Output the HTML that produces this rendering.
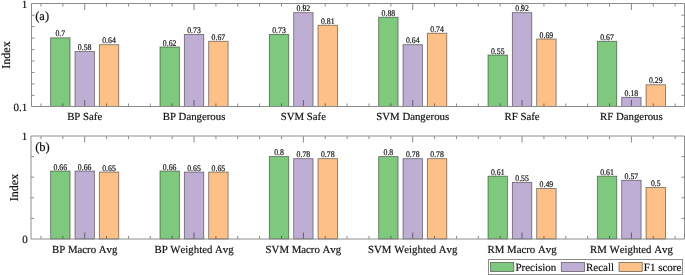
<!DOCTYPE html>
<html><head><meta charset="utf-8"><style>
html,body{margin:0;padding:0;background:#fff;}
body{width:685px;height:275px;overflow:hidden;}
svg{display:block;will-change:transform;}
text{text-rendering:geometricPrecision;font-kerning:none;font-family:"Liberation Serif",serif;fill:#111;stroke:#111;stroke-width:0.18px;}
.v{font-size:7.8px;text-anchor:middle;}
.xl{font-size:10.8px;text-anchor:middle;}
.tk{font-size:11px;}
.tg{font-size:12.5px;}
.yl{font-size:12px;text-anchor:middle;}
.lg{font-size:11px;}
.ax{stroke:#8c8c8c;stroke-width:1;fill:none;}
.tkl{stroke:rgba(0,0,0,0.47);stroke-width:1;fill:none;}
</style></head><body>
<svg width="685" height="275" viewBox="0 0 685 275">
<rect x="50.65" y="37.83" width="19.40" height="68.67" fill="#7fc97f" stroke="rgba(0,0,0,0.5)" stroke-width="0.85"/>
<rect x="75.00" y="51.57" width="19.40" height="54.93" fill="#beaed4" stroke="rgba(0,0,0,0.5)" stroke-width="0.85"/>
<rect x="99.35" y="44.70" width="19.40" height="61.80" fill="#fdc086" stroke="rgba(0,0,0,0.5)" stroke-width="0.85"/>
<rect x="159.99" y="46.99" width="19.40" height="59.51" fill="#7fc97f" stroke="rgba(0,0,0,0.5)" stroke-width="0.85"/>
<rect x="184.34" y="34.40" width="19.40" height="72.10" fill="#beaed4" stroke="rgba(0,0,0,0.5)" stroke-width="0.85"/>
<rect x="208.69" y="41.27" width="19.40" height="65.23" fill="#fdc086" stroke="rgba(0,0,0,0.5)" stroke-width="0.85"/>
<rect x="269.33" y="34.40" width="19.40" height="72.10" fill="#7fc97f" stroke="rgba(0,0,0,0.5)" stroke-width="0.85"/>
<rect x="293.68" y="12.66" width="19.40" height="93.84" fill="#beaed4" stroke="rgba(0,0,0,0.5)" stroke-width="0.85"/>
<rect x="318.03" y="25.24" width="19.40" height="81.26" fill="#fdc086" stroke="rgba(0,0,0,0.5)" stroke-width="0.85"/>
<rect x="378.67" y="17.23" width="19.40" height="89.27" fill="#7fc97f" stroke="rgba(0,0,0,0.5)" stroke-width="0.85"/>
<rect x="403.02" y="44.70" width="19.40" height="61.80" fill="#beaed4" stroke="rgba(0,0,0,0.5)" stroke-width="0.85"/>
<rect x="427.37" y="33.26" width="19.40" height="73.24" fill="#fdc086" stroke="rgba(0,0,0,0.5)" stroke-width="0.85"/>
<rect x="488.01" y="55.00" width="19.40" height="51.50" fill="#7fc97f" stroke="rgba(0,0,0,0.5)" stroke-width="0.85"/>
<rect x="512.36" y="12.66" width="19.40" height="93.84" fill="#beaed4" stroke="rgba(0,0,0,0.5)" stroke-width="0.85"/>
<rect x="536.71" y="38.98" width="19.40" height="67.52" fill="#fdc086" stroke="rgba(0,0,0,0.5)" stroke-width="0.85"/>
<rect x="597.35" y="41.27" width="19.40" height="65.23" fill="#7fc97f" stroke="rgba(0,0,0,0.5)" stroke-width="0.85"/>
<rect x="621.70" y="97.34" width="19.40" height="9.16" fill="#beaed4" stroke="rgba(0,0,0,0.5)" stroke-width="0.85"/>
<rect x="646.05" y="84.76" width="19.40" height="21.74" fill="#fdc086" stroke="rgba(0,0,0,0.5)" stroke-width="0.85"/>
<text transform="translate(60.35 36.43) scale(1 1.1)" class="v">0.7</text>
<text transform="translate(84.70 50.17) scale(1 1.1)" class="v">0.58</text>
<text transform="translate(109.05 43.30) scale(1 1.1)" class="v">0.64</text>
<text transform="translate(169.69 45.59) scale(1 1.1)" class="v">0.62</text>
<text transform="translate(194.04 33.00) scale(1 1.1)" class="v">0.73</text>
<text transform="translate(218.39 39.87) scale(1 1.1)" class="v">0.67</text>
<text transform="translate(279.03 33.00) scale(1 1.1)" class="v">0.73</text>
<text transform="translate(303.38 11.26) scale(1 1.1)" class="v">0.92</text>
<text transform="translate(327.73 23.84) scale(1 1.1)" class="v">0.81</text>
<text transform="translate(388.37 15.83) scale(1 1.1)" class="v">0.88</text>
<text transform="translate(412.72 43.30) scale(1 1.1)" class="v">0.64</text>
<text transform="translate(437.07 31.86) scale(1 1.1)" class="v">0.74</text>
<text transform="translate(497.71 53.60) scale(1 1.1)" class="v">0.55</text>
<text transform="translate(522.06 11.26) scale(1 1.1)" class="v">0.92</text>
<text transform="translate(546.41 37.58) scale(1 1.1)" class="v">0.69</text>
<text transform="translate(607.05 39.87) scale(1 1.1)" class="v">0.67</text>
<text transform="translate(631.40 95.94) scale(1 1.1)" class="v">0.18</text>
<text transform="translate(655.75 83.36) scale(1 1.1)" class="v">0.29</text>
<path d="M31.5 3.5H684.5M31.5 106.5H684.5M31.5 3.5V106.5M684.5 3.5V106.5" class="ax"/>
<path d="M40.96 106.0v-2.5M40.96 4.0v2.5M62.83 106.0v-2.5M62.83 4.0v2.5M84.70 106.0v-6.0M84.70 4.0v6.0M106.57 106.0v-2.5M106.57 4.0v2.5M128.44 106.0v-2.5M128.44 4.0v2.5M150.30 106.0v-2.5M150.30 4.0v2.5M172.17 106.0v-2.5M172.17 4.0v2.5M194.04 106.0v-6.0M194.04 4.0v6.0M215.91 106.0v-2.5M215.91 4.0v2.5M237.78 106.0v-2.5M237.78 4.0v2.5M259.64 106.0v-2.5M259.64 4.0v2.5M281.51 106.0v-2.5M281.51 4.0v2.5M303.38 106.0v-6.0M303.38 4.0v6.0M325.25 106.0v-2.5M325.25 4.0v2.5M347.12 106.0v-2.5M347.12 4.0v2.5M368.98 106.0v-2.5M368.98 4.0v2.5M390.85 106.0v-2.5M390.85 4.0v2.5M412.72 106.0v-6.0M412.72 4.0v6.0M434.59 106.0v-2.5M434.59 4.0v2.5M456.46 106.0v-2.5M456.46 4.0v2.5M478.32 106.0v-2.5M478.32 4.0v2.5M500.19 106.0v-2.5M500.19 4.0v2.5M522.06 106.0v-6.0M522.06 4.0v6.0M543.93 106.0v-2.5M543.93 4.0v2.5M565.80 106.0v-2.5M565.80 4.0v2.5M587.66 106.0v-2.5M587.66 4.0v2.5M609.53 106.0v-2.5M609.53 4.0v2.5M631.40 106.0v-6.0M631.40 4.0v6.0M653.27 106.0v-2.5M653.27 4.0v2.5M675.14 106.0v-2.5M675.14 4.0v2.5M32.0 95.36h2.5M684.0 95.36h-2.5M32.0 83.91h2.5M684.0 83.91h-2.5M32.0 72.47h2.5M684.0 72.47h-2.5M32.0 61.02h2.5M684.0 61.02h-2.5M32.0 49.58h2.5M684.0 49.58h-2.5M32.0 38.13h2.5M684.0 38.13h-2.5M32.0 26.69h2.5M684.0 26.69h-2.5M32.0 15.24h2.5M684.0 15.24h-2.5" class="tkl"/>
<text x="84.70" y="120.10" class="xl">BP Safe</text>
<text x="194.04" y="120.10" class="xl">BP Dangerous</text>
<text x="303.38" y="120.10" class="xl">SVM Safe</text>
<text x="412.72" y="120.10" class="xl">SVM Dangerous</text>
<text x="522.06" y="120.10" class="xl">RF Safe</text>
<text x="631.40" y="120.10" class="xl">RF Dangerous</text>
<text x="27.2" y="8.40" class="tk" text-anchor="end">1</text>
<text x="27.2" y="110.50" class="tk" text-anchor="end">0.1</text>
<text x="35.2" y="19.6" class="tg">(a)</text>
<text transform="translate(10.4 55.00) rotate(-90)" class="yl">Index</text>
<rect x="50.65" y="171.02" width="19.40" height="67.98" fill="#7fc97f" stroke="rgba(0,0,0,0.5)" stroke-width="0.85"/>
<rect x="75.00" y="171.02" width="19.40" height="67.98" fill="#beaed4" stroke="rgba(0,0,0,0.5)" stroke-width="0.85"/>
<rect x="99.35" y="172.05" width="19.40" height="66.95" fill="#fdc086" stroke="rgba(0,0,0,0.5)" stroke-width="0.85"/>
<rect x="159.99" y="171.02" width="19.40" height="67.98" fill="#7fc97f" stroke="rgba(0,0,0,0.5)" stroke-width="0.85"/>
<rect x="184.34" y="172.05" width="19.40" height="66.95" fill="#beaed4" stroke="rgba(0,0,0,0.5)" stroke-width="0.85"/>
<rect x="208.69" y="172.05" width="19.40" height="66.95" fill="#fdc086" stroke="rgba(0,0,0,0.5)" stroke-width="0.85"/>
<rect x="269.33" y="156.60" width="19.40" height="82.40" fill="#7fc97f" stroke="rgba(0,0,0,0.5)" stroke-width="0.85"/>
<rect x="293.68" y="158.66" width="19.40" height="80.34" fill="#beaed4" stroke="rgba(0,0,0,0.5)" stroke-width="0.85"/>
<rect x="318.03" y="158.66" width="19.40" height="80.34" fill="#fdc086" stroke="rgba(0,0,0,0.5)" stroke-width="0.85"/>
<rect x="378.67" y="156.60" width="19.40" height="82.40" fill="#7fc97f" stroke="rgba(0,0,0,0.5)" stroke-width="0.85"/>
<rect x="403.02" y="158.66" width="19.40" height="80.34" fill="#beaed4" stroke="rgba(0,0,0,0.5)" stroke-width="0.85"/>
<rect x="427.37" y="158.66" width="19.40" height="80.34" fill="#fdc086" stroke="rgba(0,0,0,0.5)" stroke-width="0.85"/>
<rect x="488.01" y="176.17" width="19.40" height="62.83" fill="#7fc97f" stroke="rgba(0,0,0,0.5)" stroke-width="0.85"/>
<rect x="512.36" y="182.35" width="19.40" height="56.65" fill="#beaed4" stroke="rgba(0,0,0,0.5)" stroke-width="0.85"/>
<rect x="536.71" y="188.53" width="19.40" height="50.47" fill="#fdc086" stroke="rgba(0,0,0,0.5)" stroke-width="0.85"/>
<rect x="597.35" y="176.17" width="19.40" height="62.83" fill="#7fc97f" stroke="rgba(0,0,0,0.5)" stroke-width="0.85"/>
<rect x="621.70" y="180.29" width="19.40" height="58.71" fill="#beaed4" stroke="rgba(0,0,0,0.5)" stroke-width="0.85"/>
<rect x="646.05" y="187.50" width="19.40" height="51.50" fill="#fdc086" stroke="rgba(0,0,0,0.5)" stroke-width="0.85"/>
<text transform="translate(60.35 169.52) scale(1 1.1)" class="v">0.66</text>
<text transform="translate(84.70 169.52) scale(1 1.1)" class="v">0.66</text>
<text transform="translate(109.05 170.55) scale(1 1.1)" class="v">0.65</text>
<text transform="translate(169.69 169.52) scale(1 1.1)" class="v">0.66</text>
<text transform="translate(194.04 170.55) scale(1 1.1)" class="v">0.65</text>
<text transform="translate(218.39 170.55) scale(1 1.1)" class="v">0.65</text>
<text transform="translate(279.03 155.10) scale(1 1.1)" class="v">0.8</text>
<text transform="translate(303.38 157.16) scale(1 1.1)" class="v">0.78</text>
<text transform="translate(327.73 157.16) scale(1 1.1)" class="v">0.78</text>
<text transform="translate(388.37 155.10) scale(1 1.1)" class="v">0.8</text>
<text transform="translate(412.72 157.16) scale(1 1.1)" class="v">0.78</text>
<text transform="translate(437.07 157.16) scale(1 1.1)" class="v">0.78</text>
<text transform="translate(497.71 174.67) scale(1 1.1)" class="v">0.61</text>
<text transform="translate(522.06 180.85) scale(1 1.1)" class="v">0.55</text>
<text transform="translate(546.41 187.03) scale(1 1.1)" class="v">0.49</text>
<text transform="translate(607.05 174.67) scale(1 1.1)" class="v">0.61</text>
<text transform="translate(631.40 178.79) scale(1 1.1)" class="v">0.57</text>
<text transform="translate(655.75 186.00) scale(1 1.1)" class="v">0.5</text>
<path d="M31.0 136.0H684.5M31.0 239.0H684.5M31.0 136.0V239.0M684.5 136.0V239.0" class="ax"/>
<path d="M40.96 238.5v-2.5M40.96 136.5v2.5M62.83 238.5v-2.5M62.83 136.5v2.5M84.70 238.5v-6.0M84.70 136.5v6.0M106.57 238.5v-2.5M106.57 136.5v2.5M128.44 238.5v-2.5M128.44 136.5v2.5M150.30 238.5v-2.5M150.30 136.5v2.5M172.17 238.5v-2.5M172.17 136.5v2.5M194.04 238.5v-6.0M194.04 136.5v6.0M215.91 238.5v-2.5M215.91 136.5v2.5M237.78 238.5v-2.5M237.78 136.5v2.5M259.64 238.5v-2.5M259.64 136.5v2.5M281.51 238.5v-2.5M281.51 136.5v2.5M303.38 238.5v-6.0M303.38 136.5v6.0M325.25 238.5v-2.5M325.25 136.5v2.5M347.12 238.5v-2.5M347.12 136.5v2.5M368.98 238.5v-2.5M368.98 136.5v2.5M390.85 238.5v-2.5M390.85 136.5v2.5M412.72 238.5v-6.0M412.72 136.5v6.0M434.59 238.5v-2.5M434.59 136.5v2.5M456.46 238.5v-2.5M456.46 136.5v2.5M478.32 238.5v-2.5M478.32 136.5v2.5M500.19 238.5v-2.5M500.19 136.5v2.5M522.06 238.5v-6.0M522.06 136.5v6.0M543.93 238.5v-2.5M543.93 136.5v2.5M565.80 238.5v-2.5M565.80 136.5v2.5M587.66 238.5v-2.5M587.66 136.5v2.5M609.53 238.5v-2.5M609.53 136.5v2.5M631.40 238.5v-6.0M631.40 136.5v6.0M653.27 238.5v-2.5M653.27 136.5v2.5M675.14 238.5v-2.5M675.14 136.5v2.5M31.5 218.40h2.5M684.0 218.40h-2.5M31.5 197.80h2.5M684.0 197.80h-2.5M31.5 177.20h2.5M684.0 177.20h-2.5M31.5 156.60h2.5M684.0 156.60h-2.5" class="tkl"/>
<text x="84.70" y="252.60" class="xl">BP Macro Avg</text>
<text x="194.04" y="252.60" class="xl">BP Weighted Avg</text>
<text x="303.38" y="252.60" class="xl">SVM Macro Avg</text>
<text x="412.72" y="252.60" class="xl">SVM Weighted Avg</text>
<text x="522.06" y="252.60" class="xl">RM Macro Avg</text>
<text x="631.40" y="252.60" class="xl">RM Weighted Avg</text>
<text x="27.2" y="140.10" class="tk" text-anchor="end">1</text>
<text x="27.7" y="243.00" class="tk" text-anchor="end">0</text>
<text x="35.2" y="151.0" class="tg">(b)</text>
<text transform="translate(18.0 187.50) rotate(-90)" class="yl">Index</text>
<rect x="488.5" y="259.5" width="194" height="15" fill="#fff" stroke="#8c8c8c" stroke-width="1"/>
<rect x="490.5" y="262.5" width="23.3" height="9" fill="#7fc97f" stroke="rgba(0,0,0,0.5)" stroke-width="0.85"/>
<text x="515.4" y="270.8" class="lg">Precision</text>
<rect x="561.3" y="262.5" width="23.3" height="9" fill="#beaed4" stroke="rgba(0,0,0,0.5)" stroke-width="0.85"/>
<text x="586.0" y="270.8" class="lg">Recall</text>
<rect x="619.0" y="262.5" width="23.3" height="9" fill="#fdc086" stroke="rgba(0,0,0,0.5)" stroke-width="0.85"/>
<text x="643.8" y="270.8" class="lg">F1 score</text>
</svg>
</body></html>
